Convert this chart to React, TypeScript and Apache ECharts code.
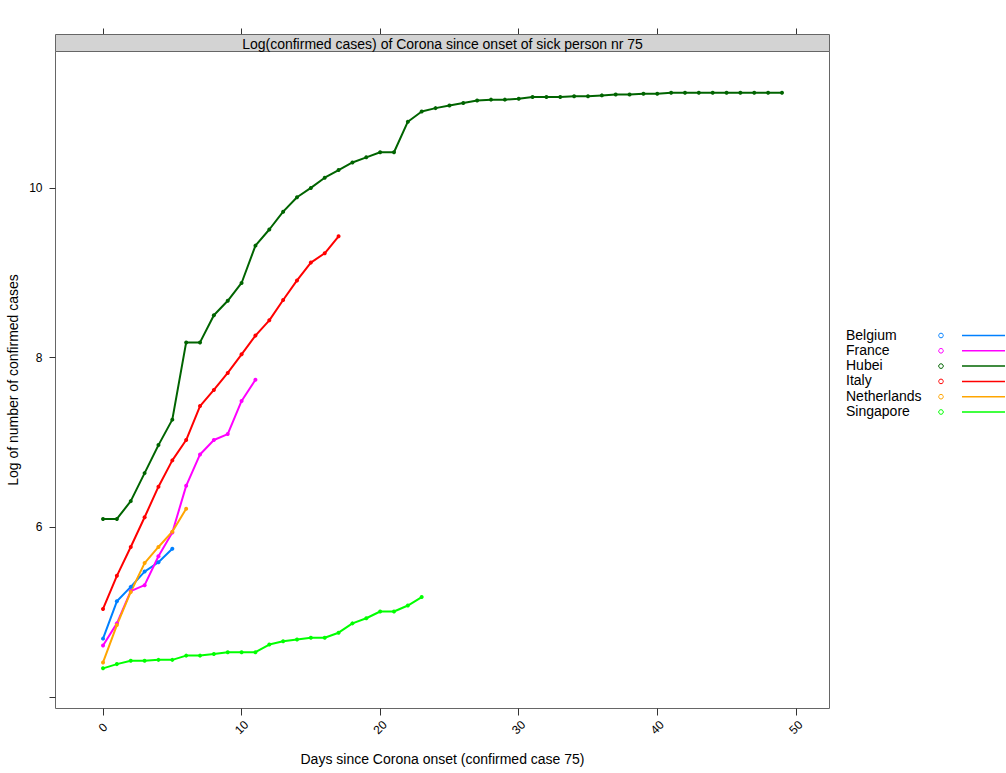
import React, { useEffect, useRef } from "react";
import * as echarts from "echarts";

const countries = ["Belgium", "France", "Hubei", "Italy", "Netherlands", "Singapore"];
const colors = ["#0080ff", "#ff00ff", "#006400", "#ff0000", "#ffa500", "#00ff00"];

const belgium = [4.69, 5.13, 5.3, 5.48, 5.59, 5.75];
const france = [4.61, 4.87, 5.25, 5.32, 5.66, 5.94, 6.49, 6.86, 7.03, 7.1, 7.49, 7.74];
const hubei = [
  6.1, 6.1, 6.31, 6.64, 6.97, 7.27, 8.18, 8.18, 8.5, 8.67,
  8.88, 9.32, 9.51, 9.72, 9.89, 10.0, 10.12, 10.21, 10.3, 10.36,
  10.42, 10.42, 10.78, 10.9, 10.94, 10.97, 11.0, 11.03, 11.04, 11.04,
  11.05, 11.07, 11.07, 11.07, 11.08, 11.08, 11.09, 11.1, 11.1, 11.11,
  11.11, 11.12, 11.12, 11.12, 11.12, 11.12, 11.12, 11.12, 11.12, 11.12,
];
const italy = [5.04, 5.43, 5.77, 6.12, 6.48, 6.79, 7.03, 7.43, 7.62, 7.82, 8.04, 8.26, 8.44, 8.68, 8.91, 9.12, 9.23, 9.43];
const netherlands = [4.41, 4.85, 5.24, 5.58, 5.77, 5.95, 6.22];
const singapore = [
  4.34, 4.39, 4.43, 4.43, 4.44, 4.44, 4.49, 4.49, 4.51, 4.53, 4.53, 4.53,
  4.62, 4.66, 4.68, 4.7, 4.7, 4.76, 4.87, 4.93, 5.01, 5.01, 5.08, 5.18,
];
const seriesValues = [belgium, france, hubei, italy, netherlands, singapore];

const xTicks = [0, 10, 20, 30, 40, 50];
const yTicks = [4, 6, 8, 10];
const yTickLabels = [6, 8, 10];

const titleText = "Log(confirmed cases) of Corona since onset of sick person nr 75";
const xTitle = "Days since Corona onset (confirmed case 75)";
const yTitle = "Log of number of confirmed cases";

const FONT = "'Liberation Sans', Arial, sans-serif";

export default function App() {
  const ref = useRef<HTMLDivElement>(null);
  useEffect(() => {
    if (!ref.current) return;
    const chart = echarts.init(ref.current, null, { renderer: "svg" });
    const gridL = 55.5, gridR = 829.5, gridT = 51.5, gridB = 708.5;
    const stripTop = 34.5;
    const legendItems: any[] = [];
    countries.forEach((name, i) => {
      const y = 335.5 + 15.3 * i;
      legendItems.push({
        type: "text",
        left: 846,
        top: y - 8,
        style: { text: name, fontSize: 14, fontFamily: FONT, fill: "#000" },
      });
      legendItems.push({
        type: "circle",
        shape: { cx: 941, cy: y, r: 2.3 },
        style: { fill: "#fff", stroke: colors[i], lineWidth: 1 },
      });
      legendItems.push({
        type: "line",
        shape: { x1: 962, y1: y, x2: 1005, y2: y },
        style: { stroke: colors[i], lineWidth: 1.5 },
      });
    });
    chart.setOption({
      animation: false,
      backgroundColor: "#fff",
      textStyle: { fontFamily: FONT },
      grid: {
        left: gridL,
        top: gridT,
        right: 1006 - gridR,
        bottom: 773 - gridB,
        show: true,
        borderColor: "#666",
        borderWidth: 1,
        backgroundColor: "transparent",
        outerBoundsMode: "none",
        containLabel: false,
      },
      xAxis: [
        {
          type: "value",
          min: -3.43,
          max: 52.43,
          position: "bottom",
          axisLine: { show: false, onZero: false },
          splitLine: { show: false },
          axisTick: { show: true, inside: false, length: 7, lineStyle: { color: "#333" }, customValues: xTicks },
          axisLabel: {
            show: true,
            customValues: xTicks,
            rotate: 45,
            align: "center",
            verticalAlign: "middle",
            margin: 19,
            fontSize: 12,
            color: "#000",
            fontFamily: FONT,
          },
        },
        {
          type: "value",
          min: -3.43,
          max: 52.43,
          position: "top",
          offset: gridT - stripTop,
          axisLine: { show: false, onZero: false },
          splitLine: { show: false },
          axisTick: { show: true, inside: false, length: 6, lineStyle: { color: "#333" }, customValues: xTicks },
          axisLabel: { show: false },
        },
      ],
      yAxis: [
        {
          type: "value",
          min: 3.867,
          max: 11.607,
          position: "left",
          axisLine: { show: false, onZero: false },
          splitLine: { show: false },
          axisTick: { show: true, inside: false, length: 6, lineStyle: { color: "#333" }, customValues: yTicks },
          axisLabel: {
            show: true,
            customValues: yTickLabels,
            margin: 13,
            fontSize: 12,
            color: "#000",
            fontFamily: FONT,
          },
        },
      ],
      series: countries.map((name, i) => ({
        name,
        type: "line",
        xAxisIndex: 0,
        yAxisIndex: 0,
        data: seriesValues[i].map((v, d) => [d, v]),
        symbol: "circle",
        symbolSize: 4,
        showSymbol: true,
        lineStyle: { color: colors[i], width: 2 },
        itemStyle: { color: colors[i] },
        emphasis: { disabled: true },
        silent: true,
      })),
      graphic: [
        {
          type: "rect",
          shape: { x: gridL, y: stripTop, width: gridR - gridL, height: gridT - stripTop },
          style: { fill: "#d3d3d3", stroke: "#666", lineWidth: 1 },
          z: 10,
        },
        {
          type: "text",
          x: (gridL + gridR) / 2,
          y: (stripTop + gridT) / 2 + 0.5,
          style: { text: titleText, fontSize: 14, fontFamily: FONT, fill: "#000", align: "center", verticalAlign: "middle" },
          z: 11,
        },
        {
          type: "text",
          x: (gridL + gridR) / 2,
          y: 759,
          style: { text: xTitle, fontSize: 14, fontFamily: FONT, fill: "#000", align: "center", verticalAlign: "middle" },
        },
        {
          type: "text",
          x: 13,
          y: (gridT + gridB) / 2,
          rotation: Math.PI / 2,
          style: { text: yTitle, fontSize: 14, fontFamily: FONT, fill: "#000", align: "center", verticalAlign: "middle" },
        },
        ...legendItems,
      ],
    });
    return () => chart.dispose();
  }, []);
  return <div ref={ref} style={{ position: "fixed", left: 0, top: 0, width: 1006, height: 773 }} />;
}
